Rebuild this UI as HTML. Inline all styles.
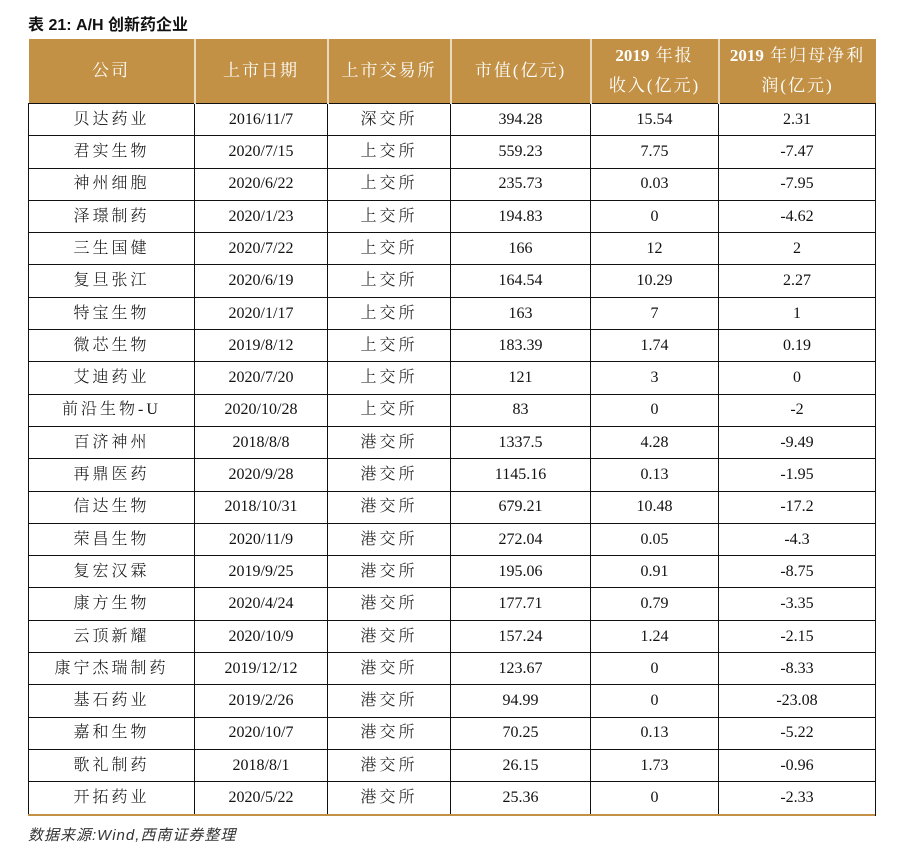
<!DOCTYPE html>
<html><head><meta charset="utf-8"><style>
body{margin:0;width:903px;height:851px;background:#fff;position:relative;font-family:"Liberation Serif","Noto Serif CJK SC",serif;overflow:hidden}
#title{position:absolute;left:28px;top:11px;font:bold 16px "Liberation Sans","Noto Sans CJK SC",sans-serif;color:#111}
table{position:absolute;left:28px;top:39px;border-collapse:collapse;width:847px;table-layout:fixed}
th{background:#C29145;color:#fff;font-weight:normal;font-size:17px;height:64px;border-left:2px solid #e8d9bf;padding:0;line-height:30px;letter-spacing:2px}
th b{letter-spacing:0}
th:first-child{border-left:none}
td{height:31.3px;border:1px solid #111;text-align:center;font-size:16px;color:#111;padding:0;line-height:16px;vertical-align:middle}
td span{display:inline-block;vertical-align:middle;line-height:16px}
tbody tr:last-child td{border-bottom:2px solid #111}
#gold{position:absolute;left:28px;top:814px;width:847px;height:2px;background:#C29145}
#src{position:absolute;left:28px;top:824px;font:italic 15px "Liberation Sans","Noto Sans CJK SC",sans-serif;color:#333;letter-spacing:1px}
</style></head><body>
<div id="title">表 21: A/H 创新药企业</div>
<table>
<colgroup><col style="width:166px"><col style="width:133px"><col style="width:123px"><col style="width:140px"><col style="width:128px"><col style="width:157px"></colgroup>
<thead><tr>
<th>公司</th>
<th>上市日期</th>
<th>上市交易所</th>
<th>市值(亿元)</th>
<th><b>2019</b> 年报<br>收入(亿元)</th>
<th><b>2019</b> 年归母净利<br>润(亿元)</th>
</tr></thead>
<tbody id="tb"></tbody></table>
<div id="gold"></div>
<div id="src">数据来源:Wind,西南证券整理</div>
<script>
const companies=["贝达药业","君实生物","神州细胞","泽璟制药","三生国健","复旦张江","特宝生物","微芯生物","艾迪药业","前沿生物-U","百济神州","再鼎医药","信达生物","荣昌生物","复宏汉霖","康方生物","云顶新耀","康宁杰瑞制药","基石药业","嘉和生物","歌礼制药","开拓药业"];
const dates=["2016/11/7","2020/7/15","2020/6/22","2020/1/23","2020/7/22","2020/6/19","2020/1/17","2019/8/12","2020/7/20","2020/10/28","2018/8/8","2020/9/28","2018/10/31","2020/11/9","2019/9/25","2020/4/24","2020/10/9","2019/12/12","2019/2/26","2020/10/7","2018/8/1","2020/5/22"];
const exchanges=["深交所","上交所","上交所","上交所","上交所","上交所","上交所","上交所","上交所","上交所","港交所","港交所","港交所","港交所","港交所","港交所","港交所","港交所","港交所","港交所","港交所","港交所"];
const marketCap=["394.28","559.23","235.73","194.83","166","164.54","163","183.39","121","83","1337.5","1145.16","679.21","272.04","195.06","177.71","157.24","123.67","94.99","70.25","26.15","25.36"];
const revenue=["15.54","7.75","0.03","0","12","10.29","7","1.74","3","0","4.28","0.13","10.48","0.05","0.91","0.79","1.24","0","0","0.13","1.73","0"];
const profit=["2.31","-7.47","-7.95","-4.62","2","2.27","1","0.19","0","-2","-9.49","-1.95","-17.2","-4.3","-8.75","-3.35","-2.15","-8.33","-23.08","-5.22","-0.96","-2.33"];
const tb=document.getElementById('tb');
const cols=[companies,dates,exchanges,marketCap,revenue,profit];
const names=['company','listing-date','exchange','market-cap','revenue','net-profit'];
companies.forEach((c,i)=>{
 const tr=document.createElement('tr');
 
 
 cols.forEach((arr,j)=>{
  const td=document.createElement('td');
  
  
  const sp=document.createElement('span');
  sp.textContent=arr[i];
  if(j===0||j===2){sp.style.letterSpacing='3px';sp.style.fontWeight='300';}
  td.appendChild(sp);
  tr.appendChild(td);
 });
 tb.appendChild(tr);
});
</script>
</body></html>
